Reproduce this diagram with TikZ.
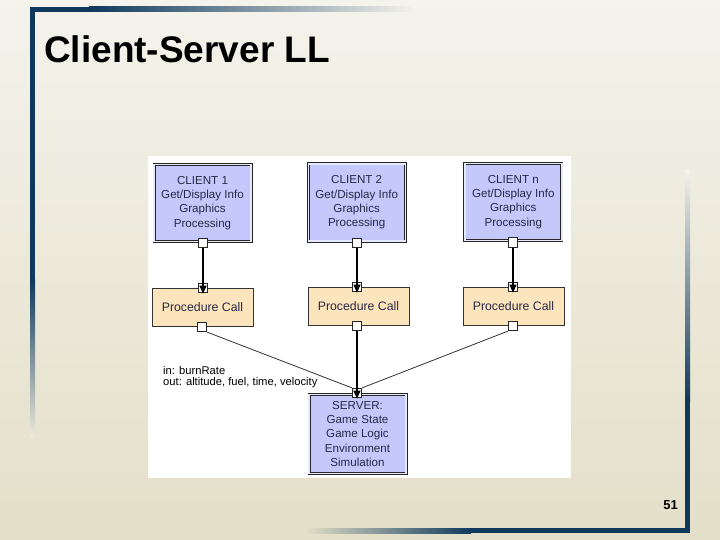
\documentclass[tikz,border=0pt]{standalone}
\usepackage{fontspec}
\setmainfont{Liberation Sans}
\usetikzlibrary{arrows.meta}
\definecolor{navy}{RGB}{14,56,92}
\definecolor{bgtop}{RGB}{244,243,236}
\definecolor{bgbot}{RGB}{228,223,200}
\definecolor{bgmid}{RGB}{236,233,218}
\definecolor{clientfill}{RGB}{196,200,250}
\definecolor{procfill}{RGB}{252,228,188}
\definecolor{txt}{RGB}{40,40,70}
\begin{document}
\begin{tikzpicture}[x=1pt,y=-1pt,
  client/.style={draw=black!85, double=clientfill!40!white, double distance=1.4pt, line width=0.8pt,
    fill=clientfill, minimum width=97pt, minimum height=77pt, inner sep=0pt, align=center,
    font=\fontsize{11.6}{14.3}\selectfont, text=txt},
  proc/.style={draw=black!80, line width=0.8pt, fill=procfill, minimum width=101pt,
    minimum height=38pt, inner sep=0pt, font=\fontsize{12.3}{14}\selectfont, text=txt},
  port/.style={draw=black!85, line width=0.8pt, fill=white, minimum size=9.5pt, inner sep=0pt},
  conn/.style={line width=1.2pt, black},
  diag/.style={line width=0.8pt, black!80},
  tipd/.style={-{Triangle[width=7pt,length=8pt]}}
]
% background
\shade[top color=bgtop, bottom color=bgbot] (0,0) rectangle (720,540);
\useasboundingbox (0,0) rectangle (720,540);
% frame bars
\shade[left color=navy, right color=bgtop] (89,7) rectangle (415,12);
\fill[navy] (30,7) rectangle (90,12);
\fill[navy] (30,7) rectangle (35,280);
\shade[top color=navy, bottom color=bgmid] (30,279) rectangle (35,437);
\shade[top color=bgtop, bottom color=navy] (685,170) rectangle (690,401);
\fill[navy] (685,400) rectangle (690,533);
\shade[left color=bgbot, right color=navy] (305,528) rectangle (471,533);
\fill[navy] (470,528) rectangle (690,533);
% title and page number
\node[anchor=base west, inner sep=0pt, font=\fontsize{37}{37}\selectfont\bfseries] (title) at (44,63) {Client-Server LL};
\node[anchor=base east, inner sep=0pt, font=\fontsize{13}{13}\selectfont\bfseries] (pagenum) at (678,509) {51};
% panel
\fill[white] (148,156) rectangle (571,478);
% clients
\node[client] (c1) at (202.5,203) {CLIENT 1\\Get/Display Info\\Graphics\\Processing};
\node[client] (c2) at (356.7,202.5) {CLIENT 2\\Get/Display Info\\Graphics\\Processing};
\node[client] (cn) at (513.3,202) {CLIENT n\\Get/Display Info\\Graphics\\Processing};
% procedure calls
\node[proc] (p1) at (202.5,307) {Procedure Call};
\node[proc] (p2) at (358.5,306) {Procedure Call};
\node[proc] (pn) at (513.5,306) {Procedure Call};
% server
\node[client, minimum height=79pt] (srv) at (357.5,434) {SERVER:\\Game State\\Game Logic\\Environment\\Simulation};
% ports
\node[port] (c1p) at (203,243) {};
\node[port] (c2p) at (357,243) {};
\node[port] (cnp) at (513,242.5) {};
\node[port] (p1t) at (203,288) {};
\node[port] (p2t) at (357,287) {};
\node[port] (pnt) at (513,287) {};
\node[port] (p1b) at (202,327) {};
\node[port] (p2b) at (357,326) {};
\node[port] (pnb) at (513,326) {};
\node[port] (st) at (357,393) {};
% connectors
\draw[conn, tipd] (c1p.south) -- ([yshift=-0.5pt]p1t.south);
\draw[conn, tipd] (c2p.south) -- ([yshift=-0.5pt]p2t.south);
\draw[conn, tipd] (cnp.south) -- ([yshift=-0.5pt]pnt.south);
\draw[conn, tipd] (p2b.south) -- ([yshift=-0.5pt]st.south);
\draw[diag] (p1b.south east) -- (st.north west);
\draw[diag] (pnb.south west) -- (st.north east);
% label
\node[anchor=north west, align=left, inner sep=0pt, font=\fontsize{11.2}{10.8}\selectfont] (lbl) at (163,366)
  {in: burnRate\\out: altitude, fuel, time, velocity};
\end{tikzpicture}
\end{document}
